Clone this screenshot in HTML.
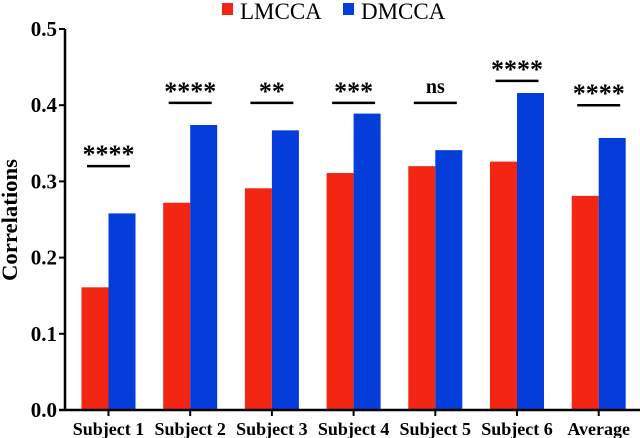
<!DOCTYPE html>
<html><head><meta charset="utf-8"><style>
body{margin:0;background:#fff}
svg{display:block;font-family:"Liberation Serif",serif}
</style></head><body>
<svg id="chart" width="640" height="438"></svg>
<script>
const categories=["Subject 1","Subject 2","Subject 3","Subject 4","Subject 5","Subject 6","Average"];
const lmcca=[0.161,0.272,0.291,0.311,0.320,0.326,0.281];
const dmcca=[0.258,0.374,0.367,0.389,0.341,0.416,0.357];
const sigLabels=["****","****","**","***","ns","****","****"];
const sigLevels=[0.32,0.403,0.403,0.403,0.403,0.432,0.4];
const yTicks=[0,0.1,0.2,0.3,0.4,0.5];
const yTickLabels=["0.0","0.1","0.2","0.3","0.4","0.5"];

const NS="http://www.w3.org/2000/svg";
const svg=document.getElementById('chart');
const x0=65,y0=410,yTop=29,ymax=0.5;
const y=v=>y0-(y0-yTop)*v/ymax;
const step=81.7,bw=27,first=108.5;
const cx=i=>first+step*i;
function mk(tag,attrs,parent){const e=document.createElementNS(NS,tag);for(const k in attrs)e.setAttribute(k,attrs[k]);(parent||svg).appendChild(e);return e;}

categories.forEach((c,i)=>{
  const r=mk('rect',{x:cx(i)-bw,y:y(lmcca[i]),width:bw,height:y0-y(lmcca[i]),fill:'#f22613'});
  
  
  const b=mk('rect',{x:cx(i),y:y(dmcca[i]),width:bw,height:y0-y(dmcca[i]),fill:'#053ddb'});
  
  
  const l=mk('line',{x1:cx(i)-21.5,x2:cx(i)+21.5,y1:y(sigLevels[i]),y2:y(sigLevels[i]),stroke:'#000','stroke-width':2.5});
  
  
  const isNs=sigLabels[i]==='ns';
  const s=mk('text',{x:cx(i),y:y(sigLevels[i])-(isNs?10:3),'text-anchor':'middle','font-size':isNs?20:26,'font-weight':'bold'});
  s.textContent=sigLabels[i];
  
  
  const t=mk('line',{x1:cx(i),x2:cx(i),y1:y0,y2:y0+6,stroke:'#000','stroke-width':2});
  
  
  const lb=mk('text',{x:cx(i),y:435,'text-anchor':'middle','font-size':18,'font-weight':'bold'});
  lb.textContent=c;
  
  
});
yTicks.forEach((v,i)=>{
  const t=mk('line',{x1:x0-6,x2:x0,y1:y(v),y2:y(v),stroke:'#000','stroke-width':2});
  
  
  const lb=mk('text',{x:x0-8,y:y(v)+7,'text-anchor':'end','font-size':21,'font-weight':'bold'});
  lb.textContent=yTickLabels[i];
  
  
});
const ya=mk('line',{x1:x0,x2:x0,y1:yTop,y2:y0+1,stroke:'#000','stroke-width':2.5});


const xa=mk('line',{x1:x0-6,x2:640,y1:y0,y2:y0,stroke:'#000','stroke-width':2.5});


const yt=mk('text',{x:0,y:0,transform:'translate(17,220) rotate(-90)','text-anchor':'middle','font-size':22,'font-weight':'bold',textLength:122,lengthAdjust:'spacingAndGlyphs'});
yt.textContent='Correlations';


const g=mk('g',{});


mk('rect',{x:222,y:3,width:11,height:12,fill:'#f22613'},g);
const t1=mk('text',{x:240,y:19,'font-size':23},g);t1.textContent='LMCCA';


mk('rect',{x:343,y:3,width:11,height:12,fill:'#053ddb'},g);
const t2=mk('text',{x:361,y:19,'font-size':23},g);t2.textContent='DMCCA';


</script>
</body></html>
